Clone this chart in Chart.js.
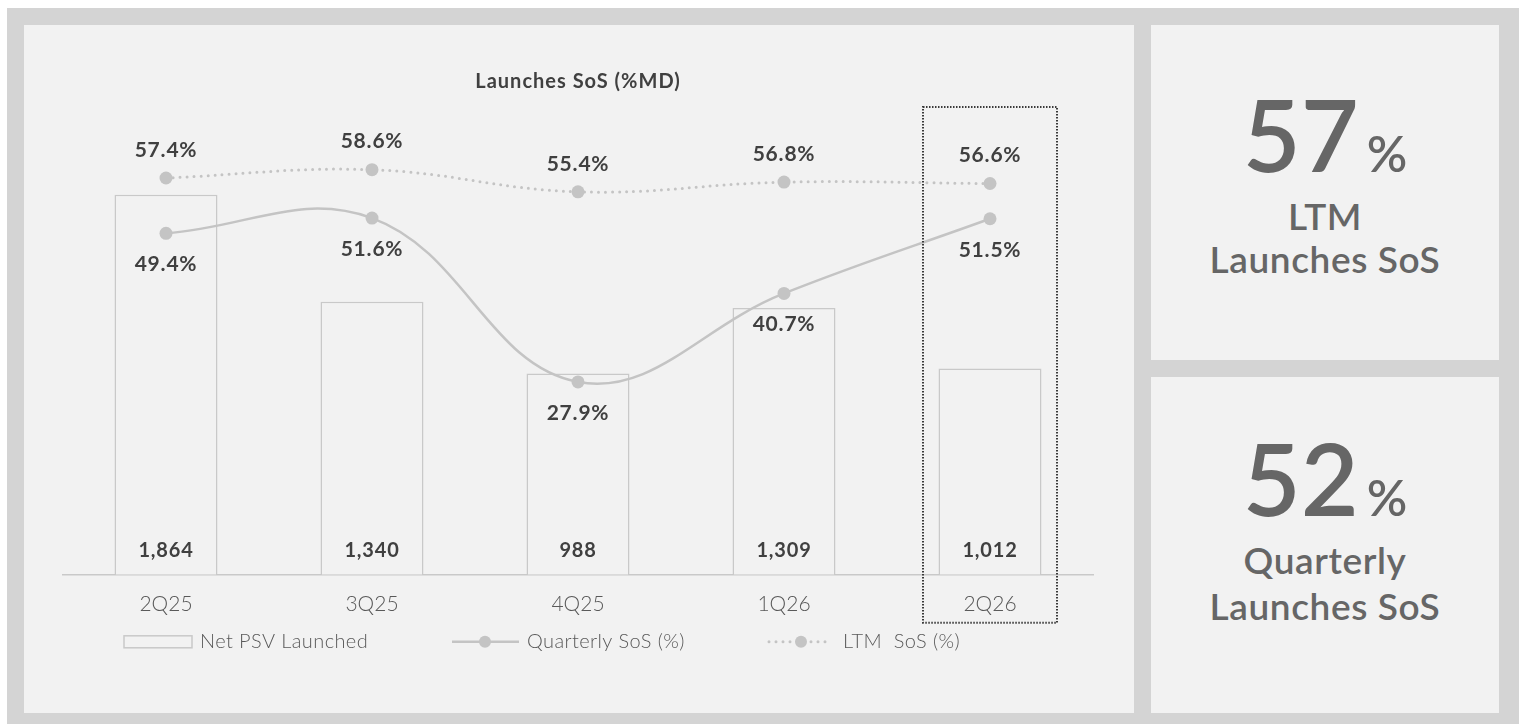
<!DOCTYPE html>
<html>
<head>
<meta charset="utf-8">
<title>Launches SoS</title>
<script src="https://cdn.jsdelivr.net/npm/chart.js@4"></script>
<style>
  body { margin: 0; background: #fff; font-family: Lato, sans-serif; }
  #frame { position: absolute; left: 7px; top: 8px; width: 1512px; height: 716px; background: #d4d4d4; }
  .panel { position: absolute; background: #f2f2f2; }
  #main { left: 24px; top: 25px; width: 1110px; height: 688px; }
  #ltm { left: 1151px; top: 25px; width: 348px; height: 335px; }
  #qtr { left: 1151px; top: 377px; width: 348px; height: 336px; }
  .big { position: absolute; left: 0; width: 100%; text-align: center; color: #666; font-size: 100px; line-height: 100px; font-weight: 600; }
  .big span { font-size: 50px; line-height: 50px; margin-left: 8px; }
  .cap { position: absolute; left: 0; width: 100%; text-align: center; color: #666; font-size: 37px; font-weight: 600; letter-spacing: 0.6px; }
</style>
</head>
<body>
<div id="frame"></div>
<div class="panel" id="main"><canvas id="myChart"></canvas></div>
<div class="panel" id="ltm">
  <div class="big" id="ltmBig" style="top:58px"></div>
  <div class="cap" style="top:169px; line-height:43px">LTM<br>Launches SoS</div>
</div>
<div class="panel" id="qtr">
  <div class="big" id="qtrBig" style="top:50px"></div>
  <div class="cap" style="top:160px; line-height:46px">Quarterly<br>Launches SoS</div>
</div>
<script>
const quarters = ["2Q25", "3Q25", "4Q25", "1Q26", "2Q26"];
const netPsvLaunched = [1864, 1340, 988, 1309, 1012];
const quarterlySos = [49.4, 51.6, 27.9, 40.7, 51.5];
const ltmSos = [57.4, 58.6, 55.4, 56.8, 56.6];

const textDark = "#404040";
const textMid = "#595959";
const lineGrey = "#c4c4c4";
const panelBg = "#f2f2f2";

// headline numbers on the right come from the latest quarter
const last = quarters.length - 1;
document.getElementById("ltmBig").innerHTML = Math.round(ltmSos[last]) + "<span>%</span>";
document.getElementById("qtrBig").innerHTML = Math.round(quarterlySos[last]) + "<span>%</span>";

const extras = {
    id: "extras",
    afterDatasetsDraw(chart) {
        const ctx = chart.ctx;
        const area = chart.chartArea;
        const bars = chart.getDatasetMeta(0).data;
        const qPts = chart.getDatasetMeta(1).data;
        const lPts = chart.getDatasetMeta(2).data;
        ctx.save();
        ctx.textAlign = "center";
        ctx.textBaseline = "middle";
        ctx.fillStyle = textDark;

        ctx.letterSpacing = "1px";
        ctx.font = "bold 20px Lato";
        ctx.fillText("Launches SoS (%MD)", (area.left + area.right) / 2, 57);

        ctx.letterSpacing = "0.8px";
        bars.forEach((b, i) => {
            ctx.fillText(netPsvLaunched[i].toLocaleString("en-US"), b.x, area.bottom - 24);
        });
        ctx.font = "bold 21px Lato";
        qPts.forEach((p, i) => ctx.fillText(quarterlySos[i].toFixed(1) + "%", p.x, p.y + 31));
        lPts.forEach((p, i) => ctx.fillText(ltmSos[i].toFixed(1) + "%", p.x, p.y - 28));
        ctx.letterSpacing = "0px";

        // dotted frame around the latest quarter
        const xs = chart.scales.x;
        const cx = xs.getPixelForValue(last);
        ctx.strokeStyle = "#3a3a3a";
        ctx.lineWidth = 2;
        ctx.setLineDash([1.5, 1.5]);
        ctx.strokeRect(cx - 67, area.top - 53, 134, area.bottom - area.top + 101);
        ctx.setLineDash([]);

        // legend
        const ly = area.bottom + 67;
        ctx.font = "300 20px Lato";
        ctx.letterSpacing = "0.4px";
        ctx.textAlign = "left";

        ctx.fillStyle = panelBg;
        ctx.fillRect(100, ly - 6, 68, 12);
        ctx.strokeStyle = "#c9c9c9";
        ctx.lineWidth = 1.5;
        ctx.strokeRect(100, ly - 6, 68, 12);
        ctx.fillStyle = textMid;
        ctx.fillText("Net PSV Launched", 176, ly);

        ctx.strokeStyle = lineGrey;
        ctx.lineWidth = 2.5;
        ctx.beginPath();
        ctx.moveTo(428, ly);
        ctx.lineTo(495, ly);
        ctx.stroke();
        ctx.fillStyle = lineGrey;
        ctx.beginPath();
        ctx.arc(461, ly, 6, 0, Math.PI * 2);
        ctx.fill();
        ctx.fillStyle = textMid;
        ctx.fillText("Quarterly SoS (%)", 503, ly);

        ctx.lineWidth = 3;
        ctx.lineCap = "round";
        ctx.setLineDash([0, 7]);
        ctx.beginPath();
        ctx.moveTo(745, ly);
        ctx.lineTo(808, ly);
        ctx.stroke();
        ctx.setLineDash([]);
        ctx.fillStyle = lineGrey;
        ctx.beginPath();
        ctx.arc(777, ly, 6, 0, Math.PI * 2);
        ctx.fill();
        ctx.fillStyle = textMid;
        ctx.fillText("LTM  SoS (%)", 819, ly);
        ctx.restore();
    }
};

const info = {
    labels: quarters,
    datasets: [
        {
            type: "bar",
            label: "Net PSV Launched",
            data: netPsvLaunched,
            yAxisID: "y",
            backgroundColor: panelBg,
            borderColor: "#c9c9c9",
            borderWidth: 1.5,
            barPercentage: 0.5,
            categoryPercentage: 1,
            order: 3
        },
        {
            type: "line",
            label: "Quarterly SoS (%)",
            data: quarterlySos,
            yAxisID: "y2",
            borderColor: lineGrey,
            borderWidth: 2.5,
            tension: 0.4,
            pointRadius: 6.5,
            pointBackgroundColor: lineGrey,
            pointBorderWidth: 0,
            order: 2
        },
        {
            type: "line",
            label: "LTM  SoS (%)",
            data: ltmSos,
            yAxisID: "y2",
            borderColor: lineGrey,
            borderWidth: 3,
            borderDash: [0, 7],
            borderCapStyle: "round",
            tension: 0.4,
            pointRadius: 6.5,
            pointBackgroundColor: lineGrey,
            pointBorderWidth: 0,
            order: 1
        }
    ]
};

const options = {
    responsive: true,
    maintainAspectRatio: false,
    animation: false,
    layout: { padding: { left: 39, right: 41, top: 135, bottom: 79 } },
    scales: {
        x: {
            grid: { display: false, drawTicks: false },
            border: { display: true, color: "#c9c9c9", width: 1.5 },
            ticks: { color: textMid, font: { family: "Lato", size: 21, weight: 300 }, padding: 17 }
        },
        y: { display: false, min: 0, max: 2035 },
        y2: { display: false, min: 0, max: 60 }
    },
    plugins: {
        legend: { display: false },
        tooltip: { enabled: false }
    }
};

const myChart = new Chart(document.getElementById("myChart"), {
    type: "bar",
    data: info,
    options,
    plugins: [extras]
});
</script>
</body>
</html>
